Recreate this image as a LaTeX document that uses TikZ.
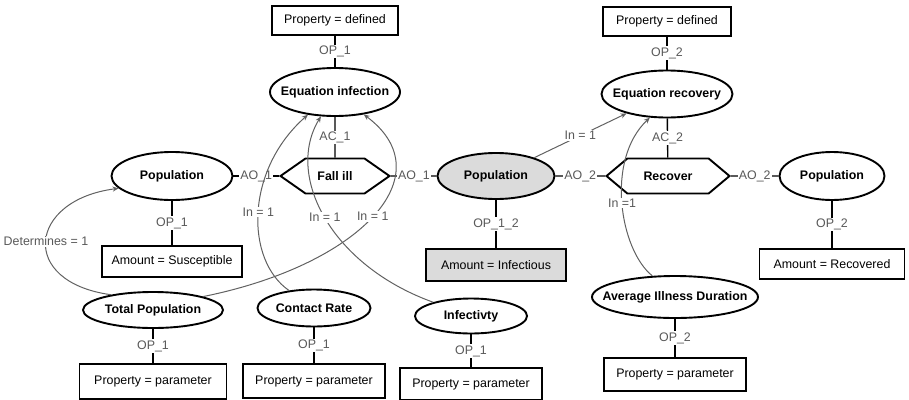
\documentclass[tikz,border=0pt]{standalone}
\usepackage{fontspec}
\setmainfont{Liberation Sans}
\usepackage{xcolor}
\usepackage{tikz}
\usetikzlibrary{arrows.meta,positioning,shapes.geometric,shapes.symbols}

\newcommand{\elltext}[1]{\makebox[0pt]{#1}}

\begin{document}
\begin{tikzpicture}[
    x=1pt, y=-1pt,
    font=\fontsize{12.4}{14}\selectfont,
    box/.style={rectangle, draw, line width=1.9pt, minimum width=142pt, minimum height=32pt, inner sep=2pt},
    ell/.style={ellipse, draw, line width=1.9pt, inner sep=0pt, font=\fontsize{12.4}{14}\selectfont\bfseries},
    proc/.style={signal, signal to=west and east, draw, line width=1.9pt, minimum height=35pt, inner sep=0pt, font=\fontsize{12.4}{14}\selectfont\bfseries},
    link/.style={line width=1.4pt},
    lbl/.style={fill=white, text=black!65, inner sep=1pt},
    inarrow/.style={-{Stealth[length=6pt, width=5pt]}, black!62, line width=1pt},
  ]
  \useasboundingbox (0,0) rectangle (909,399);

  % Equations
  \node[ell, minimum width=130pt, minimum height=48pt] (eqinf) at (335,92) {\elltext{Equation infection}};
  \node[ell, minimum width=131pt, minimum height=47pt] (eqrec) at (667,94) {\elltext{Equation recovery}};
  \node[box, minimum width=126pt, minimum height=29pt, above=31pt of eqinf] (def1) {Property = defined};
  \node[box, minimum width=128pt, minimum height=29pt, above=33pt of eqrec] (def2) {Property = defined};

  % Stocks and flows
  \node[ell, minimum width=121pt, minimum height=48pt] (pop1) at (172,176) {\elltext{Population}};
  \node[proc, minimum width=109pt, signal pointer angle=70] (fall) at (335,176) {Fall ill};
  \node[ell, fill=black!14, minimum width=117pt, minimum height=46pt] (popI) at (496,176) {\elltext{Population}};
  \node[proc, minimum width=123pt, signal pointer angle=80] (recover) at (668,176) {Recover};
  \node[ell, minimum width=105pt, minimum height=48pt] (popR) at (832,176) {\elltext{Population}};

  % Amounts
  \node[box, minimum width=140pt, minimum height=31pt, below=44pt of pop1] (amtS) {Amount = Susceptible};
  \node[box, fill=black!14, minimum width=140pt, below=48pt of popI] (amtI) {Amount = Infectious};
  \node[box, minimum width=145pt, minimum height=30pt, below=47pt of popR] (amtR) {Amount = Recovered};

  % Parameters
  \node[ell, minimum width=140pt, minimum height=36pt] (tpop) at (153,310) {\elltext{Total Population}};
  \node[ell, minimum width=113pt, minimum height=37pt] (crate) at (314,308) {\elltext{Contact Rate}};
  \node[ell, minimum width=112pt, minimum height=35pt] (infect) at (471,316) {\elltext{Infectivty}};
  \node[ell, minimum width=166pt, minimum height=42pt] (avgdur) at (675,297) {\elltext{Average Illness Duration}};
  \node[box, minimum width=147pt, minimum height=35pt, below=34pt of tpop] (par1) {Property = parameter};
  \node[box, minimum height=34pt, below=36pt of crate] (par2) {Property = parameter};
  \node[box, below=33pt of infect] (par3) {Property = parameter};
  \node[box, minimum height=33pt, below=38pt of avgdur] (par4) {Property = parameter};

  % Links
  \draw[link] (def1) -- node[lbl]{OP\_1} (eqinf);
  \draw[link] (def2) -- node[lbl]{OP\_2} (eqrec);
  \draw[link] (eqinf) -- node[lbl]{AC\_1} (fall);
  \draw[link] (eqrec) -- node[lbl]{AC\_2} (recover);
  \draw[link] (pop1) -- node[lbl]{AO\_1} (fall);
  \draw[link] (fall) -- node[lbl]{AO\_1} (popI);
  \draw[link] (popI) -- node[lbl]{AO\_2} (recover);
  \draw[link] (recover) -- node[lbl]{AO\_2} (popR);
  \draw[link] (pop1) -- node[lbl]{OP\_1} (amtS);
  \draw[link] (popI) -- node[lbl]{OP\_1\_2} (amtI);
  \draw[link] (popR) -- node[lbl]{OP\_2} (amtR);
  \draw[link] (tpop) -- node[lbl]{OP\_1} (par1);
  \draw[link] (crate) -- node[lbl]{OP\_1} (par2);
  \draw[link] (infect) -- node[lbl]{OP\_1} (par3);
  \draw[link] (avgdur) -- node[lbl]{OP\_2} (par4);

  % Influences
  \draw[inarrow] (tpop.160) .. controls (18,282) and (28,200) .. node[lbl]{Determines = 1} (pop1.193);
  \draw[inarrow] (crate.145) .. controls (245,260) and (245,170) .. node[lbl]{In = 1} (eqinf.220);
  \draw[inarrow] (infect.160) .. controls (330,265) and (285,175) .. node[lbl]{In = 1} (eqinf.240);
  \draw[inarrow] (tpop.15) .. controls (360,265) and (445,175) .. node[lbl]{In = 1} (eqinf.-38);
  \draw[inarrow] (popI) -- node[lbl]{In = 1} (eqrec);
  \draw[inarrow] (avgdur.137) .. controls (620,250) and (605,160) .. node[lbl]{In =1} (eqrec.234);
\end{tikzpicture}
\end{document}
